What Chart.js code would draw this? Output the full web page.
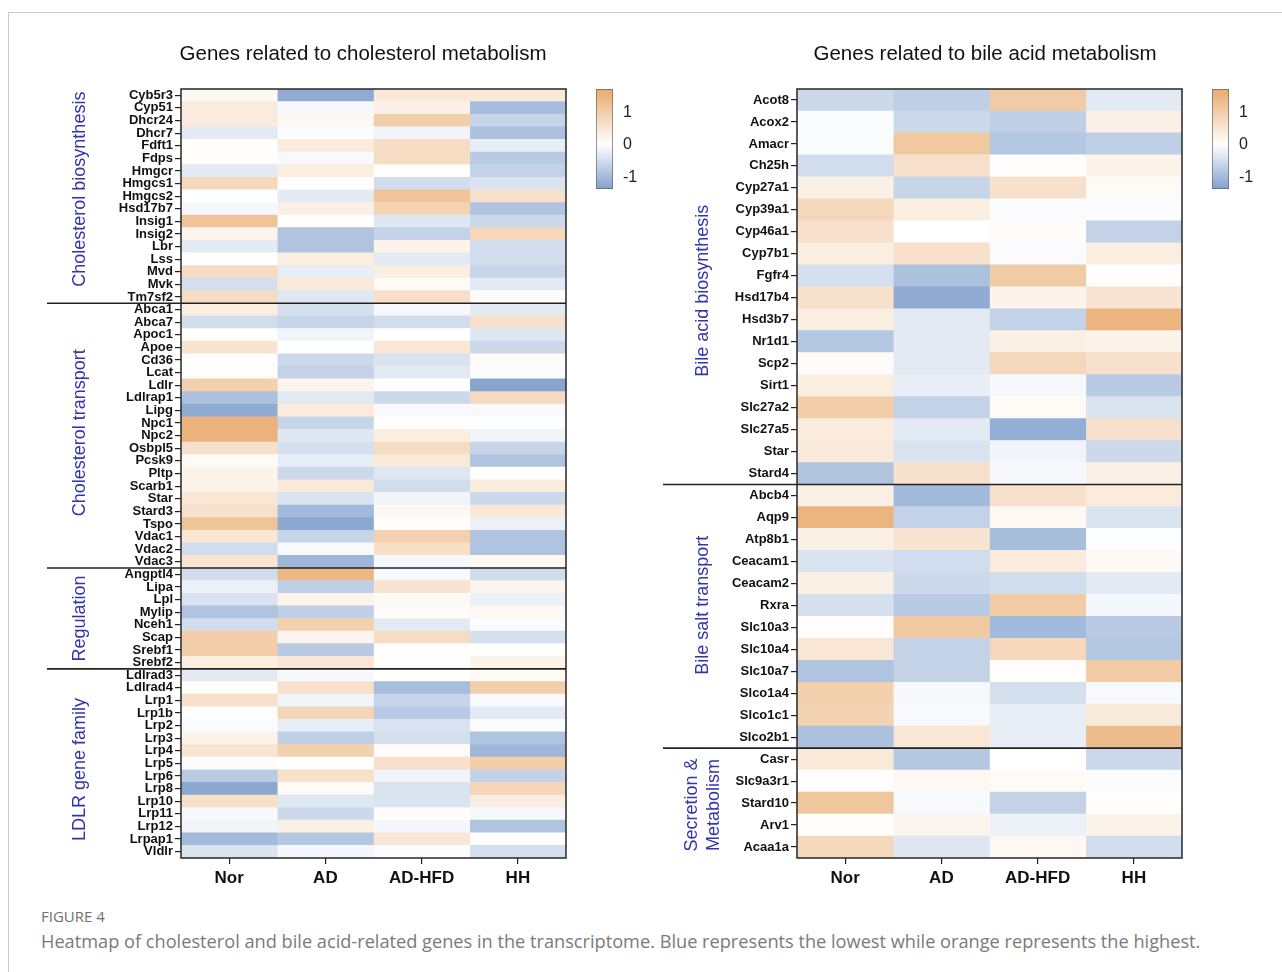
<!DOCTYPE html>
<html>
<head>
<meta charset="utf-8">
<script src="https://cdn.jsdelivr.net/npm/chart.js@4/dist/chart.umd.min.js"></script>
<style>
  body { margin: 0; background: #fff; width: 1282px; height: 972px; overflow: hidden; position: relative; font-family: "Liberation Sans", Arial, sans-serif; }
  .frame { position: absolute; left: 8px; top: 12px; width: 1400px; height: 1000px; border-top: 1px solid #c9c9c9; border-left: 1px solid #c9c9c9; }
  canvas { position: absolute; }
  .fig { position: absolute; left: 41px; top: 906px; font-family: "Open Sans", sans-serif; font-size: 15px; color: #707070; }
  .cap { position: absolute; left: 41px; top: 929px; font-family: "Open Sans", sans-serif; font-size: 18.2px; color: #7a7a7a; white-space: nowrap; }
</style>
</head>
<body>
<div class="frame"></div>
<canvas id="chol" width="641" height="900" style="left:0;top:0"></canvas>
<canvas id="bile" width="641" height="900" style="left:641px;top:0"></canvas>
<canvas id="barL" width="60" height="120" style="left:590px;top:80px"></canvas>
<canvas id="barR" width="60" height="120" style="left:1206px;top:80px"></canvas>
<div class="fig">FIGURE 4</div>
<div class="cap">Heatmap of cholesterol and bile acid-related genes in the transcriptome. Blue represents the lowest while orange represents the highest.</div>
<script>
const columns = ['Nor', 'AD', 'AD-HFD', 'HH'];

// cholesterol metabolism genes (top to bottom)
const cholGenes = ['Cyb5r3','Cyp51','Dhcr24','Dhcr7','Fdft1','Fdps','Hmgcr','Hmgcs1','Hmgcs2','Hsd17b7','Insig1','Insig2','Lbr','Lss','Mvd','Mvk','Tm7sf2',
  'Abca1','Abca7','Apoc1','Apoe','Cd36','Lcat','Ldlr','Ldlrap1','Lipg','Npc1','Npc2','Osbpl5','Pcsk9','Pltp','Scarb1','Star','Stard3','Tspo','Vdac1','Vdac2','Vdac3',
  'Angptl4','Lipa','Lpl','Mylip','Nceh1','Scap','Srebf1','Srebf2',
  'Ldlrad3','Ldlrad4','Lrp1','Lrp1b','Lrp2','Lrp3','Lrp4','Lrp5','Lrp6','Lrp8','Lrp10','Lrp11','Lrp12','Lrpap1','Vldlr'];
const cholGroups = [
  { name: ['Cholesterol biosynthesis'], size: 17, shift: -7 },
  { name: ['Cholesterol transport'], size: 21, shift: -3 },
  { name: ['Regulation'], size: 8, shift: 0 },
  { name: ['LDLR gene family'], size: 15, shift: 6 }
];
const cholNor = [0.15,0.4,0.4,-0.3,0.02,0.05,-0.3,0.8,0.0,-0.12,1.2,0.2,-0.3,0.0,0.7,-0.45,0.7,
  0.35,-0.5,0.02,0.55,0.02,0.02,0.95,-0.9,-1.2,1.55,1.55,0.6,0.1,0.25,0.25,0.5,0.6,1.2,0.5,-0.5,0.55,
  -0.5,-0.2,-0.4,-0.85,-0.5,1.0,1.0,0.35,
  -0.3,0.03,0.6,0.02,-0.06,0.25,0.55,0.06,-0.75,-1.25,0.65,-0.08,-0.15,-1.0,-0.4];
const cholAD = [-1.2,-0.1,0.15,-0.05,0.4,-0.08,0.35,0.03,-0.3,0.3,0.02,-0.85,-0.85,0.35,-0.25,0.45,-0.35,
  -0.45,-0.6,-0.15,0.0,-0.55,-0.65,0.2,-0.3,0.4,-0.6,-0.35,-0.45,-0.25,-0.55,0.45,-0.4,-1.0,-1.25,-0.6,-0.08,-1.05,
  1.45,-0.7,0.25,-0.7,0.95,0.2,-0.75,0.5,
  -0.1,0.6,-0.15,0.85,-0.25,-0.7,0.95,0.0,0.6,0.1,-0.35,-0.55,0.3,-0.8,-0.12];
const cholHFD = [0.45,0.3,1.0,-0.15,0.7,0.7,0.05,-0.5,1.2,0.9,-0.35,-0.65,0.25,-0.3,0.35,0.1,0.65,
  -0.1,-0.5,0.0,0.5,-0.4,-0.3,0.0,-0.55,-0.08,0.0,0.35,0.7,0.45,-0.35,-0.5,-0.15,0.15,0.02,0.95,0.65,-0.12,
  -0.08,0.55,0.12,0.08,-0.3,0.7,0.05,0.02,
  0.0,-0.95,-0.6,-0.75,-0.4,-0.45,0.08,0.6,-0.15,-0.4,-0.4,0.08,-0.12,0.5,-0.05];
const cholHH = [0.45,-0.95,-0.6,-0.9,-0.25,-0.75,-0.65,-0.4,0.6,-0.85,-0.55,0.8,-0.5,-0.5,-0.6,-0.3,0.05,
  -0.3,0.6,-0.35,-0.55,0.08,-0.05,-1.3,0.75,-0.08,-0.03,-0.15,-0.6,-0.85,0.02,0.4,-0.55,0.45,-0.2,-0.85,-0.85,0.15,
  -0.5,0.2,-0.2,0.15,-0.05,-0.45,0.02,0.25,
  0.1,1.0,-0.08,-0.3,-0.05,-0.85,-1.05,1.0,-0.65,0.85,0.35,-0.1,-0.85,0.02,-0.45];

// bile acid metabolism genes
const bileGenes = ['Acot8','Acox2','Amacr','Ch25h','Cyp27a1','Cyp39a1','Cyp46a1','Cyp7b1','Fgfr4','Hsd17b4','Hsd3b7','Nr1d1','Scp2','Sirt1','Slc27a2','Slc27a5','Star','Stard4',
  'Abcb4','Aqp9','Atp8b1','Ceacam1','Ceacam2','Rxra','Slc10a3','Slc10a4','Slc10a7','Slco1a4','Slco1c1','Slco2b1',
  'Casr','Slc9a3r1','Stard10','Arv1','Acaa1a'];
const bileGroups = [
  { name: ['Bile acid biosynthesis'], size: 18, shift: 4 },
  { name: ['Bile salt transport'], size: 12, shift: -11 },
  { name: ['Secretion &', 'Metabolism'], size: 5, shift: 2 }
];
const bileNor = [-0.55,-0.04,-0.05,-0.5,0.3,0.8,0.6,0.35,-0.45,0.6,0.35,-0.8,0.08,0.35,1.0,0.4,0.45,-0.85,
  0.3,1.5,0.3,-0.4,0.3,-0.45,0.05,0.5,-0.85,0.95,0.9,-0.9,
  0.45,0.02,1.15,0.02,0.8];
const bileAD = [-0.7,-0.55,1.1,0.6,-0.6,0.35,0.0,0.6,-0.9,-1.2,-0.3,-0.3,-0.3,-0.25,-0.65,-0.3,-0.4,0.6,
  -1.0,-0.65,0.55,-0.5,-0.55,-0.75,1.1,-0.65,-0.65,-0.1,-0.08,0.5,
  -0.8,0.15,-0.08,0.2,-0.35];
const bileHFD = [1.05,-0.7,-0.8,0.05,0.6,-0.05,0.06,-0.06,1.05,0.25,-0.65,0.3,0.8,-0.1,0.1,-1.15,-0.15,-0.1,
  0.6,0.15,-0.95,0.4,-0.5,1.05,-1.0,0.8,0.05,-0.45,-0.25,-0.25,
  0.0,0.1,-0.65,-0.2,0.15];
const bileHH = [-0.3,0.3,-0.7,0.25,0.1,-0.05,-0.65,0.35,0.02,0.55,1.5,0.25,0.6,-0.75,-0.4,0.6,-0.55,0.3,
  0.4,-0.4,-0.03,0.12,-0.3,-0.12,-0.75,-0.8,1.05,-0.08,0.45,1.35,
  -0.55,-0.04,0.02,0.25,-0.5];

const scaleTicks = [-1, 0, 1];
const barMin = -1.36, barMax = 1.72;

const family = '"Liberation Sans", Arial, sans-serif';
Chart.defaults.font.family = family;

function heatColor(v) {
  const hi = [233, 171, 110], lo = [125, 158, 204];
  const end = v >= 0 ? hi : lo;
  const t = Math.min(1, v >= 0 ? v / 1.7 : -v / 1.4);
  const c = end.map(e => Math.round(255 + (e - 255) * t));
  return 'rgb(' + c.join(',') + ')';
}

// frame, title, group separators and group labels
const heatDecor = {
  id: 'heatDecor',
  afterDraw(chart, args, o) {
    const { ctx, chartArea: a, scales: { y } } = chart;
    const total = chart.data.labels.length;
    ctx.save();
    ctx.strokeStyle = '#333';
    ctx.lineWidth = 1.6;
    ctx.strokeRect(a.left, a.top, a.right - a.left, a.bottom - a.top);

    ctx.fillStyle = '#111';
    ctx.font = '20.5px ' + family;
    ctx.textAlign = 'center';
    ctx.textBaseline = 'middle';
    ctx.fillText(o.title, o.titleX, 54);

    let start = 0;
    o.groups.forEach((g, i) => {
      const end = start + g.size;
      const top = i === 0 ? a.top : (y.getPixelForTick(start - 1) + y.getPixelForTick(start)) / 2;
      const bottom = end === total ? a.bottom : (y.getPixelForTick(end - 1) + y.getPixelForTick(end)) / 2;
      if (i > 0) {
        ctx.strokeStyle = '#222';
        ctx.lineWidth = 1.6;
        ctx.beginPath();
        ctx.moveTo(o.sepLeft, top);
        ctx.lineTo(a.right, top);
        ctx.stroke();
      }
      ctx.save();
      ctx.translate(o.labelX, (top + bottom) / 2 + (g.shift || 0));
      ctx.rotate(-Math.PI / 2);
      ctx.fillStyle = '#3434ae';
      ctx.font = '18px ' + family;
      const n = g.name.length;
      g.name.forEach((line, k) => ctx.fillText(line, 0, (k - (n - 1) / 2) * 22));
      ctx.restore();
      start = end;
    });
    ctx.restore();
  }
};

function makeHeatmap(id, genes, cols, decor) {
  new Chart(document.getElementById(id), {
    type: 'bar',
    data: {
      labels: genes,
      datasets: cols.map((vals, i) => ({
        label: columns[i],
        data: vals.map(() => 1),
        backgroundColor: vals.map(heatColor),
        borderWidth: 0,
        barPercentage: 1,
        categoryPercentage: 1
      }))
    },
    options: {
      indexAxis: 'y',
      responsive: false,
      animation: false,
      layout: { padding: { left: 0, top: 89, right: decor.padRight, bottom: 7 } },
      plugins: { legend: { display: false }, tooltip: { enabled: false }, heatDecor: decor },
      scales: {
        x: {
          type: 'linear', stacked: true, min: 0, max: 4,
          afterBuildTicks: s => { s.ticks = columns.map((c, i) => ({ value: i + 0.5 })); },
          afterFit: s => { s.height = 35; },
          ticks: {
            callback: v => columns[Math.floor(v)],
            font: { size: 17, weight: 'bold' }, color: '#111', padding: 4, maxRotation: 0, autoSkip: false
          },
          grid: { drawOnChartArea: false, tickLength: 6, color: '#222', lineWidth: 1.2 },
          border: { display: false }
        },
        y: {
          type: 'category', stacked: true,
          afterFit: s => { s.width = decor.axisWidth; },
          ticks: { autoSkip: false, font: { size: 13, weight: 'bold' }, color: '#111', padding: 2 },
          grid: { offset: false, drawOnChartArea: false, tickLength: 6, color: '#222', lineWidth: 1.2 },
          border: { display: false }
        }
      }
    },
    plugins: [heatDecor]
  });
}

function makeColorbar(id) {
  new Chart(document.getElementById(id), {
    type: 'bar',
    data: {
      labels: [''],
      datasets: [{
        data: [[barMin, barMax]],
        backgroundColor: c => {
          const { chart } = c;
          const area = chart.chartArea;
          if (!area) return 'transparent';
          const y = chart.scales.y;
          const g = chart.ctx.createLinearGradient(0, y.getPixelForValue(barMin), 0, y.getPixelForValue(barMax));
          for (let k = 0; k <= 30; k++) {
            const v = barMin + (barMax - barMin) * k / 30;
            g.addColorStop(k / 30, heatColor(v));
          }
          return g;
        },
        borderColor: '#666',
        borderWidth: 1,
        borderSkipped: false,
        barPercentage: 1,
        categoryPercentage: 1
      }]
    },
    options: {
      responsive: false,
      animation: false,
      layout: { padding: { left: 6, top: 9, right: 0, bottom: 11 } },
      plugins: { legend: { display: false }, tooltip: { enabled: false } },
      scales: {
        x: { display: false },
        y: {
          position: 'right', min: barMin, max: barMax, z: 1,
          afterBuildTicks: s => { s.ticks = scaleTicks.map(v => ({ value: v })); },
          afterFit: s => { s.width = 37; s.paddingTop = 0; s.paddingBottom = 0; },
          ticks: { font: { size: 16 }, color: '#222', padding: 10 },
          grid: { drawTicks: false, color: '#333', lineWidth: 1 },
          border: { display: false, dash: [6, 5] }
        }
      }
    }
  });
}

makeHeatmap('chol', cholGenes, [cholNor, cholAD, cholHFD, cholHH], {
  title: 'Genes related to cholesterol metabolism', titleX: 363,
  groups: cholGroups, sepLeft: 47, labelX: 80, axisWidth: 181, padRight: 75
});
makeHeatmap('bile', bileGenes, [bileNor, bileAD, bileHFD, bileHH], {
  title: 'Genes related to bile acid metabolism', titleX: 344,
  groups: bileGroups, sepLeft: 22, labelX: 62, axisWidth: 156, padRight: 100
});
makeColorbar('barL');
makeColorbar('barR');
</script>
</body>
</html>
